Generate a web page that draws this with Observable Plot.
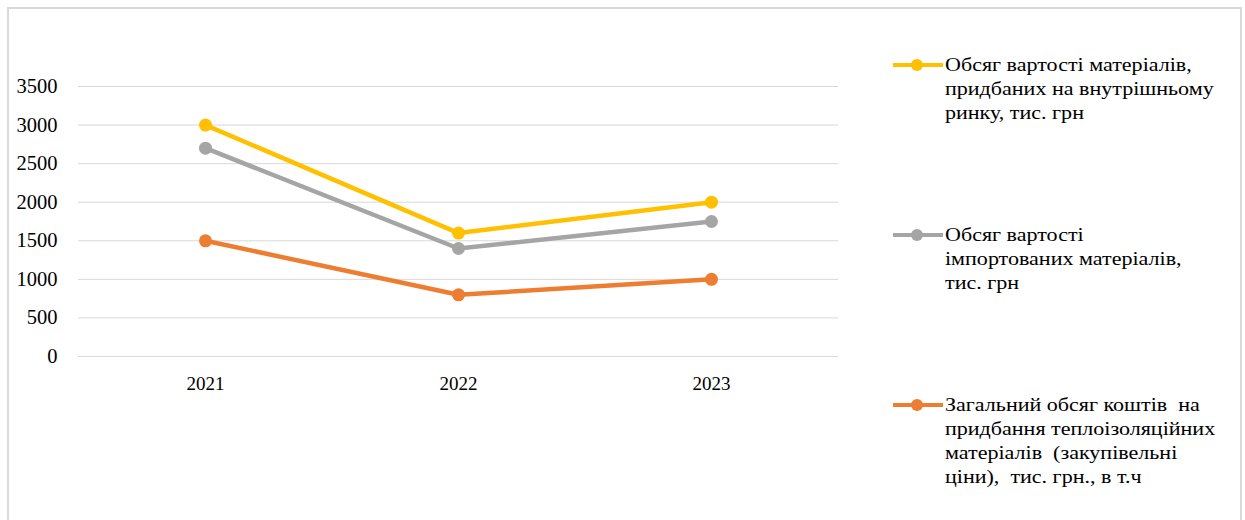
<!DOCTYPE html>
<html>
<head>
<meta charset="utf-8">
<script src="https://cdn.jsdelivr.net/npm/d3@7"></script>
<script src="https://cdn.jsdelivr.net/npm/@observablehq/plot@0.6"></script>
<style>
  body { margin: 0; background: #fff; }
  #wrap { position: relative; width: 1245px; height: 520px; overflow: hidden; font-family: "Liberation Serif", "DejaVu Serif", "Noto Serif", "Times New Roman", serif; color: #000; }
  #frame { position: absolute; left: 7px; top: 7px; width: 1235px; height: 540px; border: 2px solid #d9d9d9; box-sizing: border-box; }
  #chart { position: absolute; left: 0; top: 0; }
  #chart svg text { font-family: "Liberation Serif", "DejaVu Serif", "Noto Serif", "Times New Roman", serif; }
  .leg { position: absolute; left: 892px; font-size: 19px; line-height: 24px; white-space: pre; }
  .leg svg { position: absolute; left: 0; top: 6px; }
  .leg .txt { position: absolute; left: 53px; top: 0; transform: scaleX(1.16); transform-origin: 0 0; }
</style>
</head>
<body>
<div id="wrap">
  <div id="frame"></div>
  <div id="chart"></div>
</div>
<script>
const years = ["2021", "2022", "2023"];
const seriesNames = [
  "Обсяг вартості матеріалів, придбаних на внутрішньому ринку, тис. грн",
  "Обсяг вартості імпортованих матеріалів, тис. грн",
  "Загальний обсяг коштів  на придбання теплоізоляційних матеріалів  (закупівельні ціни), тис. грн., в т.ч"
];
const legendLines = [
  ["Обсяг вартості матеріалів,", "придбаних на внутрішньому", "ринку, тис. грн"],
  ["Обсяг вартості", "імпортованих матеріалів,", "тис. грн"],
  ["Загальний обсяг коштів  на", "придбання теплоізоляційних", "матеріалів  (закупівельні", "ціни),  тис. грн., в т.ч"]
];
const domesticValues = [3000, 1600, 2000];
const importedValues = [2700, 1400, 1750];
const totalValues = [1500, 800, 1000];
const seriesColors = ["#FFC000", "#A5A5A5", "#ED7D31"];
const yTicks = [0, 500, 1000, 1500, 2000, 2500, 3000, 3500];
const legendTops = [53, 223, 393];

const allValues = [domesticValues, importedValues, totalValues];
const data = [];
allValues.forEach((vals, i) => {
  vals.forEach((v, j) => data.push({ series: seriesNames[i], year: years[j], value: v }));
});

const chart = Plot.plot({
  width: 860,
  height: 420,
  marginLeft: 78,
  marginRight: 22,
  marginTop: 86,
  marginBottom: 64,
  style: { fontFamily: "'Liberation Serif', 'DejaVu Serif', serif", fontSize: "19px", color: "#000", background: "transparent" },
  x: { type: "point", domain: years, padding: 0.5, label: null },
  y: { domain: [0, 3500], label: null },
  color: { domain: seriesNames, range: seriesColors },
  marks: [
    Plot.gridY(yTicks, { stroke: "#d9d9d9", strokeOpacity: 1, strokeWidth: 1 }),
    Plot.axisY(yTicks, { tickSize: 0, tickPadding: 21, label: null, fontSize: 20.5, tickFormat: d => String(d) }),
    Plot.axisX(years, { tickSize: 0, tickPadding: 20, label: null, fontSize: 19 }),
    Plot.line(data, { x: "year", y: "value", z: "series", stroke: "series", strokeWidth: 4.5, strokeLinecap: "round", strokeLinejoin: "round" }),
    Plot.dot(data, { x: "year", y: "value", fill: "series", r: 6.5, stroke: "none" })
  ]
});
document.getElementById("chart").appendChild(chart);

const wrap = document.getElementById("wrap");
seriesNames.forEach((name, i) => {
  const div = document.createElement("div");
  div.className = "leg";
  div.style.top = legendTops[i] + "px";
  div.innerHTML =
    `<svg width="52" height="12"><line x1="1" y1="6" x2="51" y2="6" stroke="${seriesColors[i]}" stroke-width="4"/><circle cx="25" cy="6" r="6" fill="${seriesColors[i]}"/></svg>` +
    `<div class="txt">${legendLines[i].join("\n")}</div>`;
  div.title = name;
  wrap.appendChild(div);
});
</script>
</body>
</html>
